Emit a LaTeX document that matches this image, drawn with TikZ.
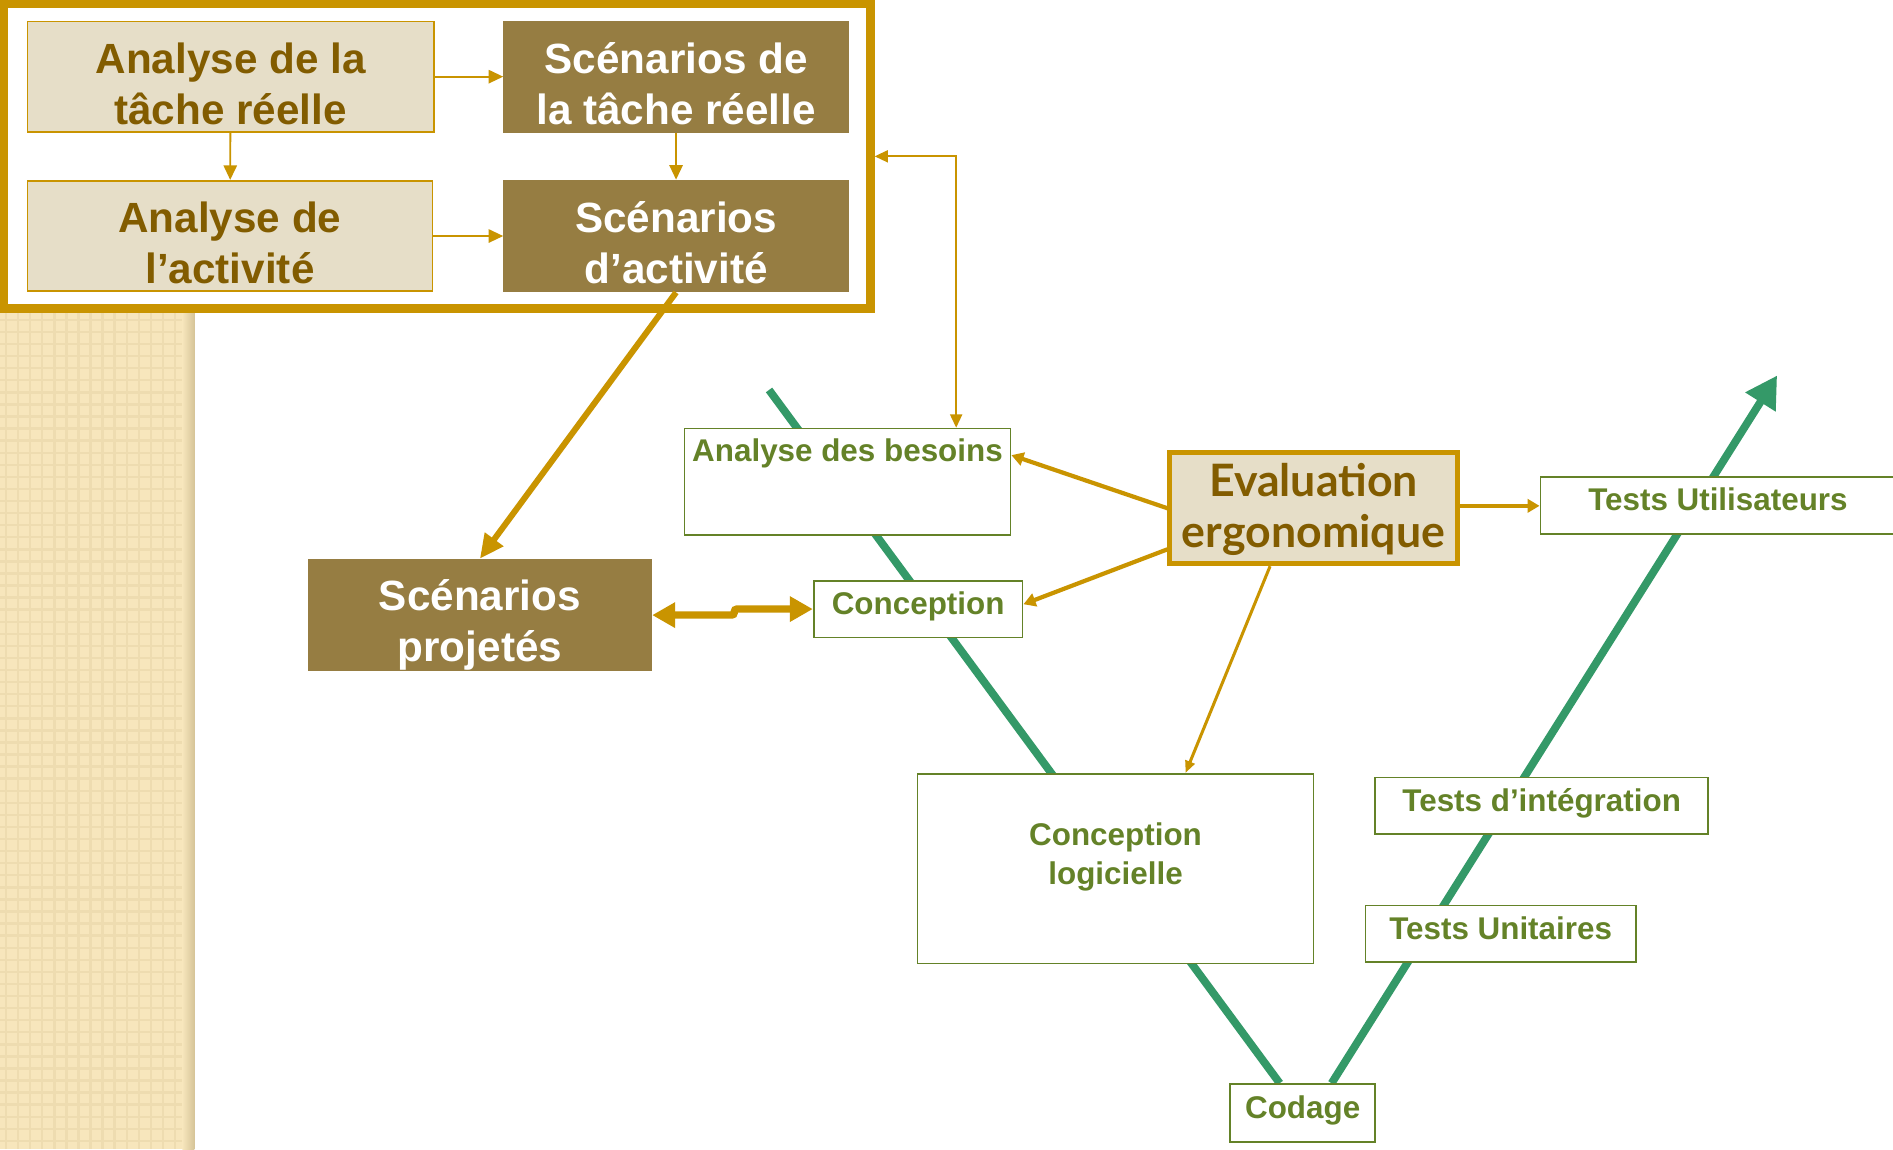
\documentclass[tikz,border=0pt]{standalone}
\usepackage{fontspec}
\setmainfont{Liberation Sans}
\newfontfamily\gillfont{Lato}
\usetikzlibrary{arrows.meta,calc}
\definecolor{gold}{RGB}{201,148,0}
\definecolor{beigefill}{RGB}{230,222,200}
\definecolor{olivebox}{RGB}{150,125,66}
\definecolor{txtbrown}{RGB}{130,92,0}
\definecolor{vgreen}{RGB}{52,153,104}
\definecolor{tgreen}{RGB}{100,130,40}
\definecolor{stripcol}{RGB}{247,230,188}
\definecolor{stripdark}{RGB}{238,220,176}
\definecolor{stripshadow}{RGB}{214,196,152}
\newcommand\liftline[1]{\rule{0pt}{#1}}
\pgfdeclarelayer{background}
\pgfsetlayers{background,main}
\begin{document}
\begin{tikzpicture}[x=1pt,y=-1pt,
  bigfont/.style={font=\bfseries\fontsize{35}{42}\selectfont},
  anabox/.style={draw=gold,line width=1.5pt,fill=beigefill,text=txtbrown,bigfont,align=center,inner sep=0pt},
  scenbox/.style={fill=olivebox,text=white,bigfont,align=center,inner sep=0pt},
  gbox/.style={draw=tgreen,line width=1.5pt,fill=white,text=tgreen,font=\bfseries\fontsize{26}{32}\selectfont,align=center,inner sep=0pt,text depth=10pt},
  glabel/.style={text=tgreen,font=\bfseries\fontsize{26}{32}\selectfont,align=center,inner sep=0pt},
  evalbox/.style={draw=gold,line width=4pt,fill=beigefill,text=txtbrown,font=\gillfont\bfseries\fontsize{37}{42}\selectfont,align=center,inner sep=0pt},
  framebox/.style={draw=gold,line width=7pt,fill=white,inner sep=0pt},
  thinarrow/.style={draw=gold,line width=1.5pt,-{Triangle[length=12pt,width=11pt]}},
  thinboth/.style={draw=gold,line width=1.5pt,{Triangle[length=11pt,width=10pt]}-{Triangle[length=11pt,width=10pt]}},
  thickarrow/.style={draw=gold,line width=5pt,-{Triangle[length=20pt,width=18pt]}},
  dblarrow/.style={draw=gold,line width=6pt,rounded corners=2pt,{Triangle[length=19pt,width=20pt]}-{Triangle[length=19pt,width=20pt]}},
  evarrow/.style={draw=gold,line width=3.5pt,-{Triangle[length=10pt,width=11pt]}},
  evthin/.style={draw=gold,line width=2.5pt,-{Triangle[length=10pt,width=8pt]}},
  vline/.style={draw=vgreen,line width=6.5pt},
]
\useasboundingbox (0,0) rectangle (1568,952);
\clip (0,0) rectangle (1568,952);

\begin{pgfonlayer}{background}
\fill[white] (0,0) rectangle (1568,952);
\fill[stripcol] (0,0) rectangle (161,952);
\foreach \i in {0,...,15} \draw[stripdark,line width=2pt] (\i*10+5,0) -- (\i*10+5,952);
\foreach \j in {0,...,95} \draw[stripdark,line width=2pt] (0,\j*10+5) -- (155,\j*10+5);
\shade[left color=stripcol,right color=stripshadow] (151,0) rectangle (161,952);
\end{pgfonlayer}

% top frame
\node[framebox,minimum width=717.5pt,minimum height=252pt] (frame) at (362.25,129.5) {};
\node[anabox,minimum width=336.5pt,minimum height=91.5pt] (A1) at (191,63.5) {\liftline{37pt}Analyse de la\\tâche réelle};
\node[scenbox,minimum width=286pt,minimum height=93pt] (S1) at (560,63.5) {\liftline{37pt}Scénarios de\\la tâche réelle};
\node[anabox,minimum width=335.5pt,minimum height=91.5pt] (A2) at (190.5,195.5) {\liftline{37pt}Analyse de\\l’activité};
\node[scenbox,minimum width=286pt,minimum height=93pt] (S2) at (560,195.5) {\liftline{37pt}Scénarios\\d’activité};

\draw[thinarrow] (A1) -- (S1);
\draw[thinarrow] (A1) -- (A2);
\draw[thinarrow] (S1) -- (S2);
\draw[thinarrow] (A2) -- (S2);

% projected scenarios
\node[scenbox,minimum width=285pt,minimum height=93pt] (P) at (397.5,509.5) {\liftline{42pt}Scénarios\\projetés};

% V-cycle boxes
\node[gbox,minimum width=270pt,minimum height=88pt,
  label={[glabel,anchor=north,yshift=-9pt]north:Analyse des besoins}] (adb) at (702,399) {};
\node[gbox,minimum width=173pt,minimum height=47pt] (conc) at (760.5,504.5) {Conception};
\node[gbox,minimum width=328pt,minimum height=157pt,
  label={[glabel,anchor=north,yshift=-41pt]north:Conception\\logicielle}] (CL) at (924,719.5) {};
\node[gbox,minimum width=120pt,minimum height=48pt] (codage) at (1079,922) {Codage};
\node[gbox,minimum width=224pt,minimum height=47pt] (TU) at (1243,773.5) {Tests Unitaires};
\node[gbox,minimum width=276pt,minimum height=47pt] (TI) at (1277,667.5) {Tests d’intégration};
\node[gbox,minimum width=294pt,minimum height=47pt] (TUs) at (1423,418.5) {Tests Utilisateurs};

\node[evalbox,minimum width=238pt,minimum height=92pt] (eval) at (1088,421) {\liftline{29pt}Evaluation\\ergonomique};

% connectors
\draw[thinboth] (frame.east) -| ([xshift=90pt]adb.north);
\draw[thickarrow] (S2.south) -- (P.north);
\draw[dblarrow] (P.east) -- ++(68,0) |- (conc.west);
\draw[evarrow] (eval.west) -- ([yshift=22pt]adb.east);
\draw[evarrow] ([yshift=-34pt]eval.west) -- ([yshift=4pt]conc.east);
\draw[evthin] ([xshift=-36pt]eval.south) -- ([xshift=58pt]CL.north);
\draw[evarrow] ([yshift=2pt]eval.east) -- ([yshift=2pt]eval.east -| TUs.west);

% V line
\coordinate (vtop) at (637,323);
\coordinate (vtip) at (1472,311);
\begin{pgfonlayer}{background}
\draw[vline] (vtop) -- ([xshift=-19pt]codage.north);
\draw[vline,-{Triangle[length=26pt,width=28pt]}] ([xshift=24pt]codage.north) -- (vtip);
\end{pgfonlayer}
\end{tikzpicture}
\end{document}
